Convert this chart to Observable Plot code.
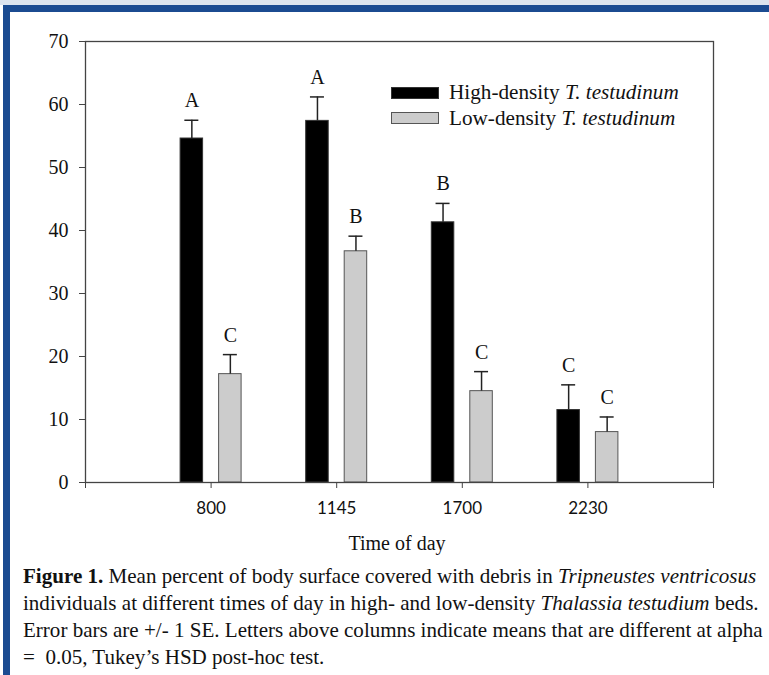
<!DOCTYPE html>
<html><head><meta charset="utf-8">
<script src="https://cdn.jsdelivr.net/npm/d3@7"></script>
<script src="https://cdn.jsdelivr.net/npm/@observablehq/plot@0.6"></script>
<style>
html,body{margin:0;padding:0;background:#fff;}
body{width:769px;height:675px;overflow:hidden;position:relative;font-family:"Liberation Serif","Times New Roman",serif;color:#111;}
#topline{position:absolute;left:0;top:0;width:769px;height:5px;background:#dde4ee;}
#border{position:absolute;left:3px;top:5px;width:766px;height:670px;border-left:7px solid #1b4b91;border-top:7px solid #1b4b91;box-sizing:border-box;}
#chart{position:absolute;left:0;top:0;}
#legend{position:absolute;left:391px;top:80px;font-size:21.2px;}
.row{display:flex;align-items:center;height:25.5px;white-space:nowrap;}
.sw{width:48px;height:12px;margin-right:10px;box-sizing:border-box;}
#xtitle{position:absolute;top:532px;left:0;width:794px;text-align:center;font-size:20px;}
#caption{position:absolute;left:23px;top:563px;font-size:21.05px;line-height:27px;white-space:nowrap;}
</style>
</head><body>
<div id="topline"></div>
<div id="border"></div>
<div id="chart"></div>
<div id="legend"></div>
<div id="xtitle">Time of day</div>
<div id="caption"><b>Figure 1.</b> Mean percent of body surface covered with debris in <i>Tripneustes ventricosus</i><br>individuals at different times of day in high- and low-density <i>Thalassia testudium</i> beds.<br>Error bars are +/- 1 SE. Letters above columns indicate means that are different at alpha<br>= &nbsp;0.05, Tukey’s HSD post-hoc test.</div>
<script>
// ---- data ----
const times = ["800", "1145", "1700", "2230"];
const highMean = [54.6, 57.4, 41.3, 11.5];
const highSE = [2.9, 3.8, 3.0, 4.0];
const lowMean = [17.2, 36.7, 14.5, 8.0];
const lowSE = [3.1, 2.4, 3.1, 2.4];
const highLetters = ["A", "A", "B", "C"];
const lowLetters = ["C", "B", "C", "C"];
const yTicks = [0, 10, 20, 30, 40, 50, 60, 70];
const seriesNames = ["High-density", "Low-density"];

const rows = [];
times.forEach((t, i) => {
  rows.push({time: t, pos: i + 1, group: "high", mean: highMean[i], se: highSE[i], letter: highLetters[i]});
  rows.push({time: t, pos: i + 1, group: "low", mean: lowMean[i], se: lowSE[i], letter: lowLetters[i]});
});

// layout constants (px converted to x units)
const W = 769, H = 530, ML = 85, MR = 56, MT = 41, MB = 48;
const unit = (W - ML - MR) / (times.length + 1);
const inner = 8 / unit, outer = 30.5 / unit, capHalf = 7 / unit;
const leftX = d => d.pos + (d.group === "high" ? -outer : inner);
const rightX = d => d.pos + (d.group === "high" ? -inner : outer);
const centerX = d => (leftX(d) + rightX(d)) / 2;
const errTop = d => d.mean + d.se;

const serif = "'Liberation Serif', 'Times New Roman', serif";
const chart = Plot.plot({
  width: W, height: H,
  marginLeft: ML, marginRight: MR, marginTop: MT, marginBottom: MB,
  style: {fontFamily: serif, fontSize: "20px", color: "#111", background: "transparent"},
  x: {domain: [0, times.length + 1]},
  y: {domain: [0, 70]},
  marks: [
    Plot.rectY(rows.filter(d => d.group === "high"), {x1: leftX, x2: rightX, y1: 0, y2: "mean", fill: "#000", stroke: "#333", strokeWidth: 1}),
    Plot.rectY(rows.filter(d => d.group === "low"), {x1: leftX, x2: rightX, y1: 0, y2: "mean", fill: "#cccccc", stroke: "#555", strokeWidth: 1}),
    Plot.ruleX(rows, {x: centerX, y1: "mean", y2: errTop, stroke: "#222", strokeWidth: 1.5}),
    Plot.ruleY(rows, {y: errTop, x1: d => centerX(d) - capHalf, x2: d => centerX(d) + capHalf, stroke: "#222", strokeWidth: 1.5}),
    Plot.text(rows, {x: centerX, y: errTop, text: "letter", lineAnchor: "bottom", dy: -13, fontSize: 20, fontFamily: serif, fill: "#111"}),
    Plot.frame({stroke: "#444", strokeWidth: 1.3}),
    Plot.axisY({ticks: yTicks, tickSize: 6, tickPadding: 11, label: null, stroke: "#444"}),
    Plot.axisX({ticks: d3.range(0, times.length + 2), tickFormat: i => times[i - 1] ?? "", tickSize: 6, tickPadding: 13, label: null, stroke: "#444"})
  ]
});
document.getElementById("chart").appendChild(chart);

// axis label fonts
d3.select(chart).selectAll('g[aria-label="y-axis tick label"]')
  .attr("font-size", 20).attr("font-family", serif)
  .style("font-size", "20px").style("font-family", serif);
d3.select(chart).selectAll('g[aria-label="x-axis tick label"]')
  .attr("font-size", 17).attr("font-family", "Lato, 'Open Sans', sans-serif")
  .style("font-size", "17px").style("font-family", "Lato, 'Open Sans', sans-serif");

// legend
const leg = document.getElementById("legend");
const swStyles = [{bg: "#000", bd: "#333"}, {bg: "#cccccc", bd: "#555"}];
seriesNames.forEach((n, i) => {
  const r = document.createElement("div");
  r.className = "row";
  r.innerHTML = `<span class="sw" style="background:${swStyles[i].bg};border:1px solid ${swStyles[i].bd}"></span><span>${n} <i>T. testudinum</i></span>`;
  leg.appendChild(r);
});
</script>
</body></html>
